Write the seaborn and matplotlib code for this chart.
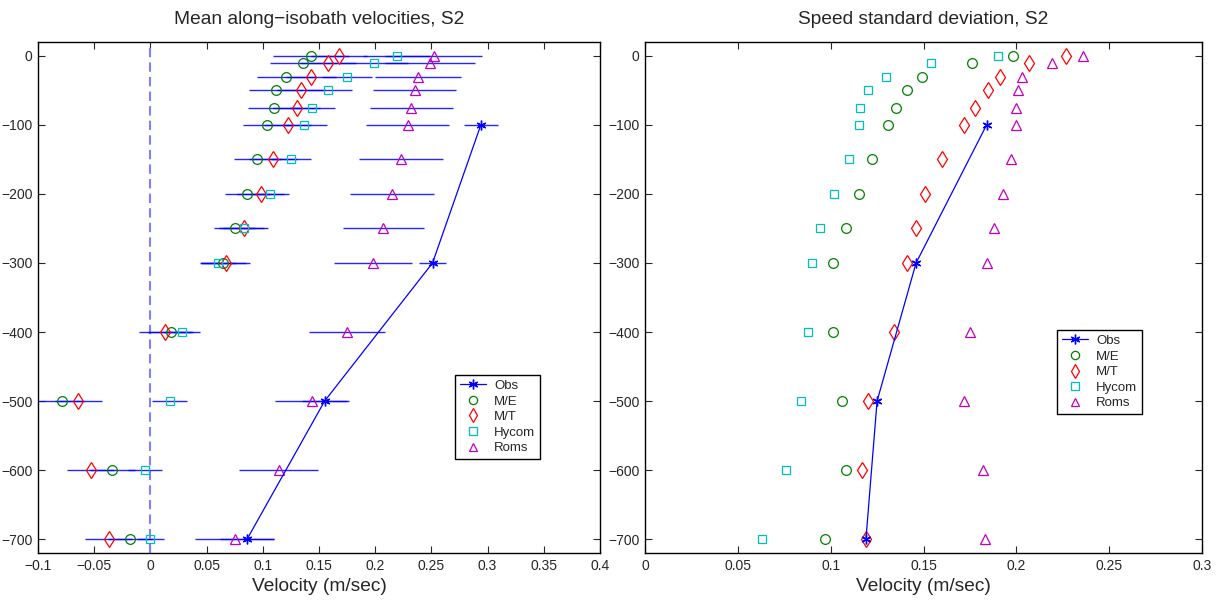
import numpy as np
import pandas as pd
import matplotlib
matplotlib.use("Agg")
import matplotlib.pyplot as plt
import seaborn as sns
from matplotlib.lines import Line2D

# ---------------- data ----------------
depths = [0, -10, -30, -50, -75, -100, -150, -200, -250, -300, -400, -500, -600, -700]
obs_depths = [-100, -300, -500, -700]

# Mean along-isobath velocities (m/sec)
mean_obs = [0.294, 0.251, 0.155, 0.086]
mean_obs_err = [0.015, 0.012, 0.020, 0.024]
mean_me = [0.143, 0.136, 0.121, 0.112, 0.110, 0.104, 0.095, 0.086, 0.075, 0.065, 0.018, -0.079, -0.034, -0.018]
mean_me_err = [0.034, 0.030, 0.026, 0.024, 0.023, 0.022, 0.021, 0.020, 0.018, 0.020, 0.020, 0.020, 0.020, 0.020]
mean_mt = [0.168, 0.158, 0.143, 0.134, 0.130, 0.122, 0.109, 0.098, 0.083, 0.067, 0.013, -0.064, -0.053, -0.037]
mean_mt_err = [0.025, 0.025, 0.022, 0.021, 0.021, 0.021, 0.021, 0.021, 0.022, 0.022, 0.023, 0.021, 0.021, 0.021]
mean_hy = [0.219, 0.199, 0.175, 0.158, 0.144, 0.137, 0.125, 0.106, 0.083, 0.060, 0.028, 0.017, -0.005, 0.000]
mean_hy_err = [0.030, 0.030, 0.022, 0.021, 0.020, 0.020, 0.018, 0.017, 0.018, 0.016, 0.016, 0.016, 0.015, 0.012]
mean_ro = [0.252, 0.249, 0.238, 0.235, 0.232, 0.229, 0.223, 0.215, 0.207, 0.198, 0.175, 0.144, 0.114, 0.075]
mean_ro_err = [0.043, 0.040, 0.038, 0.037, 0.037, 0.037, 0.037, 0.037, 0.036, 0.035, 0.034, 0.033, 0.035, 0.035]

# Speed standard deviation (m/sec)
std_obs = [0.184, 0.146, 0.125, 0.119]
std_me = [0.198, 0.176, 0.149, 0.141, 0.135, 0.131, 0.122, 0.115, 0.108, 0.101, 0.101, 0.106, 0.108, 0.097]
std_mt = [0.227, 0.207, 0.191, 0.185, 0.178, 0.172, 0.160, 0.151, 0.146, 0.141, 0.134, 0.120, 0.117, 0.119]
std_hy = [0.190, 0.154, 0.130, 0.120, 0.116, 0.115, 0.110, 0.102, 0.094, 0.090, 0.088, 0.084, 0.076, 0.063]
std_ro = [0.236, 0.219, 0.203, 0.201, 0.200, 0.200, 0.197, 0.193, 0.188, 0.184, 0.175, 0.172, 0.182, 0.183]

series_names = ["Obs", "M/E", "M/T", "Hycom", "Roms"]
left_xticks = [-0.1, -0.05, 0, 0.05, 0.1, 0.15, 0.2, 0.25, 0.3, 0.35, 0.4]
left_xticklabels = ["\u22120.1", "\u22120.05", "0", "0.05", "0.1", "0.15", "0.2", "0.25", "0.3", "0.35", "0.4"]
right_xticks = [0, 0.05, 0.1, 0.15, 0.2, 0.25, 0.3]
right_xticklabels = ["0", "0.05", "0.1", "0.15", "0.2", "0.25", "0.3"]
yticks = [0, -100, -200, -300, -400, -500, -600, -700]
yticklabels = ["0", "\u2212100", "\u2212200", "\u2212300", "\u2212400", "\u2212500", "\u2212600", "\u2212700"]
titles = ["Mean along\u2212isobath velocities, S2", "Speed standard deviation, S2"]
xlabel = "Velocity (m/sec)"

# ---------------- style ----------------
sns.set_style("white")
plt.rcParams["font.family"] = ["Liberation Sans", "DejaVu Sans"]
plt.rcParams["axes.linewidth"] = 1.0

styles = {
    "Obs": dict(color=(0, 0, 1), marker=(6, 2, 0), ms=7),
    "M/E": dict(color=(0, 0.5, 0), marker="o", ms=7),
    "M/T": dict(color=(1, 0, 0), marker="d", ms=8),
    "Hycom": dict(color=(0, 0.75, 0.75), marker="s", ms=6),
    "Roms": dict(color=(0.75, 0, 0.75), marker="^", ms=7.5),
}

fig = plt.figure(figsize=(12.26, 6.01), dpi=100)
axL = fig.add_axes([38 / 1226, 48 / 601, 562 / 1226, 511 / 601])
axR = fig.add_axes([645 / 1226, 48 / 601, 557 / 1226, 511 / 601])


def draw_models(ax, vals):
    for name, v in vals:
        st = styles[name]
        df = pd.DataFrame({"x": v, "y": depths})
        sns.lineplot(data=df, x="x", y="y", ax=ax, sort=False, estimator=None,
                     linestyle="none", marker=st["marker"], markersize=st["ms"],
                     markerfacecolor="none", markeredgecolor=st["color"],
                     markeredgewidth=0.9, color=st["color"], zorder=4)


def draw_obs(ax, v):
    st = styles["Obs"]
    df = pd.DataFrame({"x": v, "y": obs_depths})
    sns.lineplot(data=df, x="x", y="y", ax=ax, sort=False, estimator=None,
                 color=st["color"], linewidth=0.9, marker=st["marker"],
                 markersize=st["ms"], markeredgecolor=st["color"],
                 markeredgewidth=1.0, zorder=5)


def finish(ax, xlim, xt, xtl, title, legend_anchor):
    ax.set_xlim(*xlim)
    ax.set_ylim(-720, 20)
    ax.set_xticks(xt)
    ax.set_xticklabels(xtl, fontsize=10)
    ax.set_yticks(yticks)
    ax.set_yticklabels(yticklabels, fontsize=10)
    ax.tick_params(direction="in", length=5, width=0.8, top=True, right=True,
                   bottom=True, left=True, pad=4)
    for s in ax.spines.values():
        s.set_visible(True)
        s.set_color("black")
    ax.set_title(title, fontsize=13.8, pad=13)
    ax.set_xlabel(xlabel, fontsize=13.8, labelpad=4)
    ax.set_ylabel("")
    handles = []
    for name in series_names:
        st = styles[name]
        if name == "Obs":
            h = Line2D([], [], color=st["color"], lw=0.9, marker=st["marker"],
                       ms=st["ms"], mec=st["color"], mew=1.0)
        else:
            h = Line2D([], [], ls="none", marker=st["marker"], ms=st["ms"] * 0.85,
                       mfc="none", mec=st["color"], mew=0.9)
        handles.append(h)
    leg = ax.legend(handles, series_names, loc="upper left",
                    bbox_to_anchor=legend_anchor, fontsize=9.5, frameon=True,
                    fancybox=False, shadow=False, framealpha=1, edgecolor="black",
                    handlelength=2.0, labelspacing=0.25, borderpad=0.35,
                    handletextpad=0.6, borderaxespad=0)
    leg.get_frame().set_linewidth(1.0)


# ---- left panel ----
axL.axvline(0, color=(0.5, 0.5, 1), ls="--", lw=1.5, dashes=(4.5, 2.5), zorder=1)
for v, e in [(mean_me, mean_me_err), (mean_mt, mean_mt_err),
             (mean_hy, mean_hy_err), (mean_ro, mean_ro_err)]:
    axL.errorbar(v, depths, xerr=e, fmt="none", ecolor=(0, 0, 1), elinewidth=1.0,
                 capsize=0, alpha=0.85, zorder=2)
axL.errorbar(mean_obs, obs_depths, xerr=mean_obs_err, fmt="none", ecolor=(0, 0, 1),
             elinewidth=1.0, capsize=0, alpha=0.85, zorder=2)
draw_models(axL, [("M/E", mean_me), ("M/T", mean_mt), ("Hycom", mean_hy), ("Roms", mean_ro)])
draw_obs(axL, mean_obs)
finish(axL, (-0.1, 0.4), left_xticks, left_xticklabels, titles[0], (0.742, 0.348))

# ---- right panel ----
draw_models(axR, [("M/E", std_me), ("M/T", std_mt), ("Hycom", std_hy), ("Roms", std_ro)])
draw_obs(axR, std_obs)
finish(axR, (0, 0.3), right_xticks, right_xticklabels, titles[1], (0.74, 0.436))

fig.savefig("out.png", dpi=100)
